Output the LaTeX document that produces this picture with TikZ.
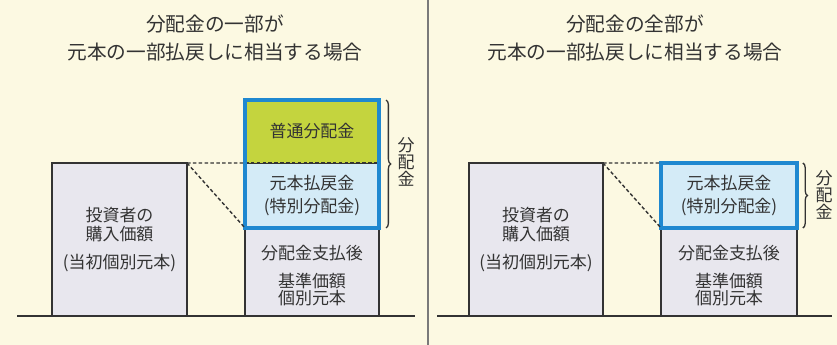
\documentclass[tikz,border=0pt]{standalone}
\usepackage{fontspec}
\setmainfont{Noto Sans CJK JP}
\usepackage{tikz}
\usetikzlibrary{positioning, decorations.pathreplacing}

\definecolor{paper}{HTML}{FCF9E2}
\definecolor{ink}{HTML}{333333}
\definecolor{greybox}{HTML}{E8E7EE}
\definecolor{greenbox}{HTML}{C4D43E}
\definecolor{bluebox}{HTML}{D4EBF7}
\definecolor{blueline}{HTML}{1F88D0}

\begin{document}
\begin{tikzpicture}[x=0.03cm, y=-0.03cm,
  every node/.style = {text=ink, inner sep=0pt, outer sep=0pt},
  box/.style        = {draw=ink, line width=1.6pt, rectangle, align=center,
                       font=\fontsize{14.5pt}{14.5pt}\selectfont},
  title/.style      = {align=center, font=\fontsize{16.8pt}{23.9pt}\selectfont},
  sidelabel/.style  = {align=center, font=\fontsize{14.5pt}{14.5pt}\selectfont},
  dashline/.style   = {draw=ink, line width=1.2pt, dash pattern=on 3pt off 2pt},
  bracket/.style    = {draw=ink, line width=1.1pt,
                       decorate, decoration={brace, amplitude=4pt}},
  groundline/.style = {draw=ink, line width=1.6pt}
]

\fill [paper] (0,0) rectangle (837,345);
\useasboundingbox (0,0) rectangle (837,345);

\draw [draw=ink!65, line width=1.2pt] (428,0) -- (428,345);

\node [title] (t1) at (215,38) {分配金の一部が\\元本の一部払戻しに相当する場合};
\node [title] (t2) at (635,38) {分配金の全部が\\元本の一部払戻しに相当する場合};

\node [box, fill=greybox, minimum width=4.05cm, minimum height=4.59cm] at (119.5,239.5) (inv1)
      {投資者の\\[2.5pt]購入価額\\[9.4pt](当初個別元本)};
\node [box, fill=greybox, minimum width=4.02cm, minimum height=2.64cm] at (312,272)     (after1)
      {\rule{0pt}{18pt}分配金支払後\\[9.4pt]基準価額\\個別元本};
\node [box, fill=bluebox , minimum width=4.02cm, minimum height=1.95cm, above=0cm of after1] (refund1)
      {元本払戻金\\[5.1pt](特別分配金)};
\node [box, fill=greenbox, draw=none, minimum width=4.02cm, minimum height=1.89cm, above=0cm of refund1] (normal1)
      {普通分配金};

\node [box, fill=greybox, minimum width=4.02cm, minimum height=4.59cm] at (536,239.5)   (inv2)
      {投資者の\\[2.5pt]購入価額\\[9.4pt](当初個別元本)};
\node [box, fill=greybox, minimum width=4.08cm, minimum height=2.64cm] at (729,272)     (after2)
      {\rule{0pt}{18pt}分配金支払後\\[9.4pt]基準価額\\個別元本};
\node [box, fill=bluebox , minimum width=4.08cm, minimum height=1.95cm, above=0cm of after2] (refund2)
      {元本払戻金\\[5.1pt](特別分配金)};

\path [dashline] (refund1.north west) -- (refund1.north east);
\draw [blueline, line width=2.6pt] (normal1.north west) rectangle (refund1.south east);
\draw [blueline, line width=2.6pt] (refund2.north west) rectangle (refund2.south east);

\path [dashline] (inv1.north east) edge (refund1.north west);
\path [dashline] (inv1.north east) edge (refund1.south west);
\path [dashline] (inv2.north east) edge (refund2.north west);
\path [dashline] (inv2.north east) edge (refund2.south west);

\path [bracket] ([xshift=6pt]normal1.north east) -- ([xshift=6pt]refund1.south east);
\path [bracket] ([xshift=5pt]refund2.north east) -- ([xshift=5pt]refund2.south east);

\node [sidelabel] at (406,162) (sum1) {分\\配\\金};
\node [sidelabel] at (824,195) (sum2) {分\\配\\金};

\coordinate (g1a) at (17,316);
\coordinate (g1b) at (415,316);
\coordinate (g2a) at (437,316);
\coordinate (g2b) at (832,316);
\path [groundline] (g1a) edge (g1b);
\path [groundline] (g2a) edge (g2b);

\end{tikzpicture}
\end{document}
